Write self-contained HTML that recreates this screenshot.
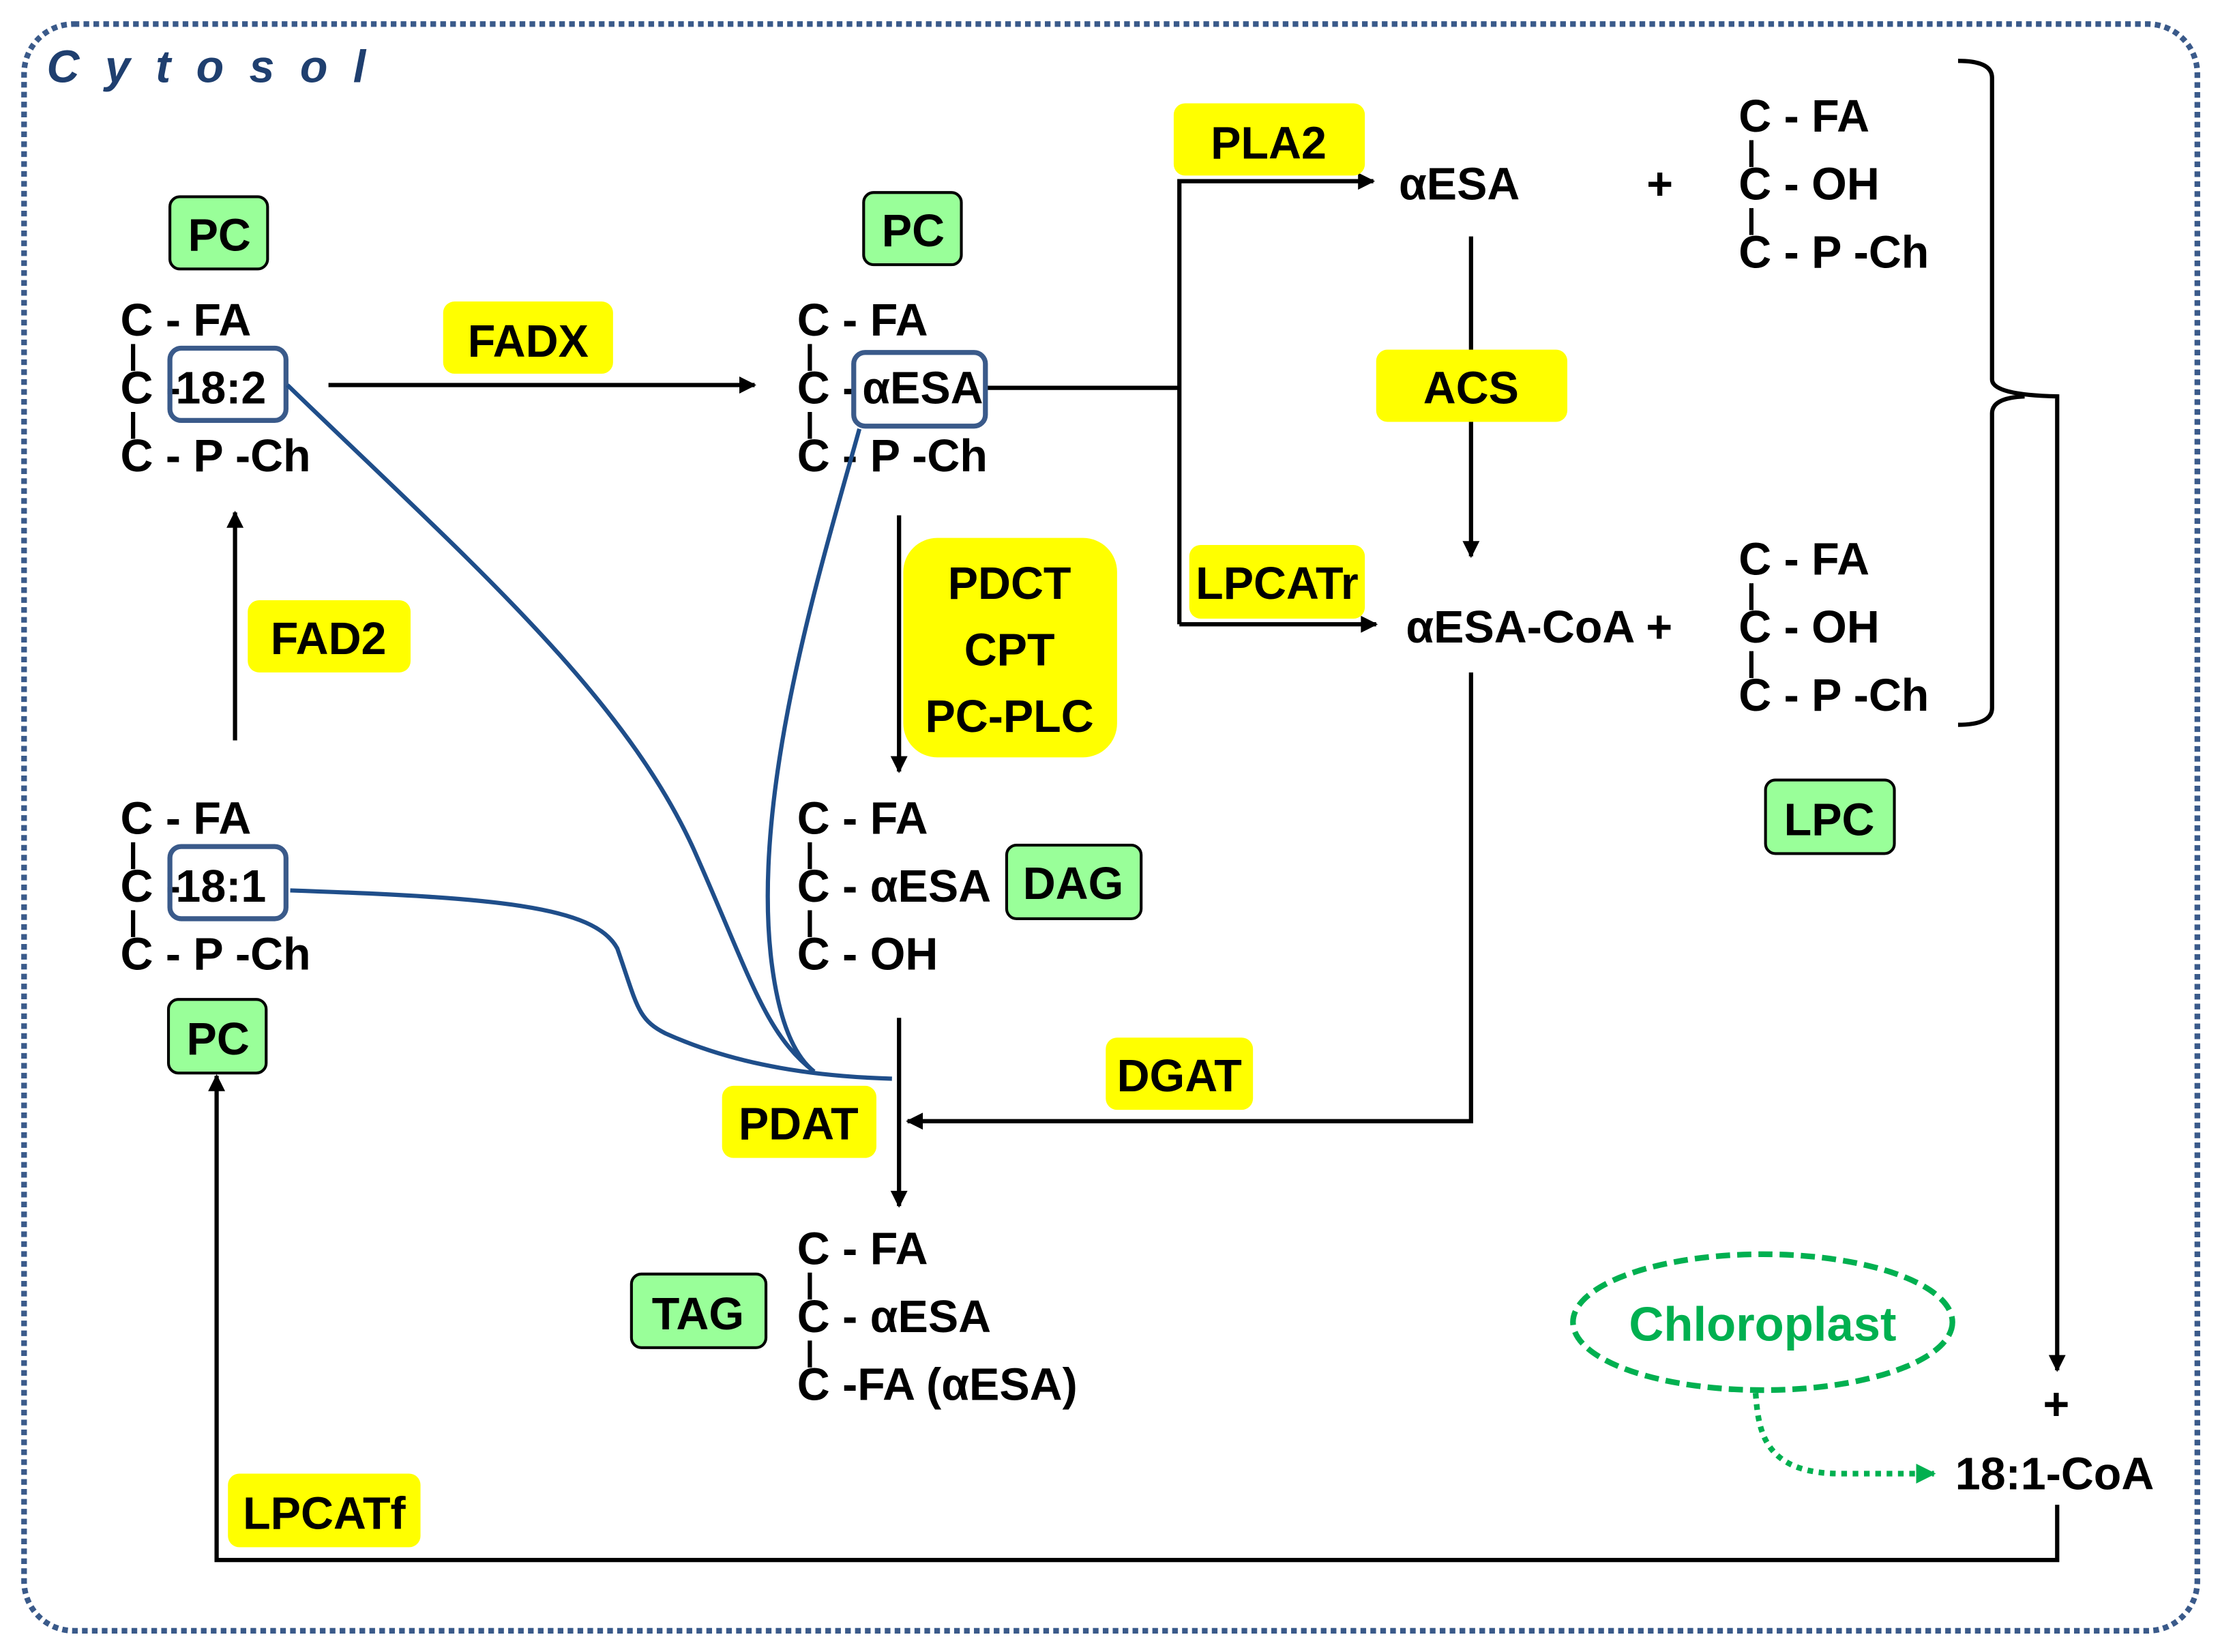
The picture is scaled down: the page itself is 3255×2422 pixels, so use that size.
<!DOCTYPE html>
<html><head><meta charset="utf-8"><style>html,body{margin:0;padding:0;background:#fff}svg{display:block}</style></head>
<body>
<svg width="3255" height="2422" viewBox="0 0 1568 1167" preserveAspectRatio="none" xmlns="http://www.w3.org/2000/svg" font-family="Liberation Sans Narrow, Liberation Sans, sans-serif" font-weight="bold">
<defs>
<marker id="ak" viewBox="0 0 10 10" refX="9" refY="5" markerWidth="14" markerHeight="12" orient="auto" markerUnits="userSpaceOnUse"><path d="M0,0L10,5L0,10z" fill="#000"/></marker>
<marker id="ag" viewBox="0 0 10 10" refX="9" refY="5" markerWidth="14" markerHeight="14" orient="auto" markerUnits="userSpaceOnUse"><path d="M0,0L10,5L0,10z" fill="#00b050"/></marker>
</defs>
<rect x="17" y="17" width="1535" height="1135" rx="35" fill="none" stroke="#3a5a8a" stroke-width="4" stroke-dasharray="4,3"/>
<text x="33" y="58" font-size="32" font-style="italic" fill="#1f3f6f" letter-spacing="18" font-family="Liberation Sans, sans-serif">Cytosol</text>

<g fill="none" stroke="#000" stroke-width="3">
<path d="M232,272H533" marker-end="url(#ak)"/>
<path d="M696,274H833"/>
<path d="M833,441V128H970" marker-end="url(#ak)"/>
<path d="M833,441H972" marker-end="url(#ak)"/>
<path d="M1039,167V393" marker-end="url(#ak)"/>
<path d="M166,523V362" marker-end="url(#ak)"/>
<path d="M635,364V545" marker-end="url(#ak)"/>
<path d="M635,719V852" marker-end="url(#ak)"/>
<path d="M1039,475V792H641" marker-end="url(#ak)"/>
<path d="M1383,43Q1407,43 1407,55V268Q1407,279 1453,280V968" marker-end="url(#ak)"/>
<path d="M1383,512Q1407,512 1407,500V292Q1407,281 1430,280"/>
<path d="M1453,1063V1102H153V760" marker-end="url(#ak)"/>
</g>

<g fill="#ffff00">
<rect x="829" y="73" width="135" height="51" rx="8"/>
<rect x="313" y="213" width="120" height="51" rx="8"/>
<rect x="175" y="424" width="115" height="51" rx="8"/>
<rect x="972" y="247" width="135" height="51" rx="8"/>
<rect x="840" y="385" width="124" height="52" rx="8"/>
<rect x="638" y="380" width="151" height="155" rx="24"/>
<rect x="781" y="733" width="104" height="51" rx="8"/>
<rect x="510" y="767" width="109" height="51" rx="8"/>
<rect x="161" y="1041" width="136" height="52" rx="8"/>
</g>
<g fill="#99ff99" stroke="#000" stroke-width="2">
<rect x="120" y="139" width="69" height="51" rx="7"/>
<rect x="610" y="136" width="69" height="51" rx="7"/>
<rect x="119" y="706" width="69" height="52" rx="7"/>
<rect x="711" y="597" width="95" height="52" rx="7"/>
<rect x="446" y="900" width="95" height="52" rx="7"/>
<rect x="1247" y="551" width="91" height="52" rx="7"/>
</g>

<g font-size="32" fill="#000" text-anchor="middle">
<text x="896" y="112">PLA2</text>
<text x="373" y="252">FADX</text>
<text x="232" y="462">FAD2</text>
<text x="1039" y="285">ACS</text>
<text x="902" y="423">LPCATr</text>
<text x="713" y="423">PDCT</text>
<text x="713" y="470">CPT</text>
<text x="713" y="517">PC-PLC</text>
<text x="833" y="771">DGAT</text>
<text x="564" y="805">PDAT</text>
<text x="229" y="1080">LPCATf</text>
<text x="155" y="177">PC</text>
<text x="645" y="174">PC</text>
<text x="154" y="745">PC</text>
<text x="758" y="635">DAG</text>
<text x="493" y="939">TAG</text>
<text x="1292" y="590">LPC</text>
</g>

<g font-size="32" fill="#000">
<text x="85" y="237">C - FA</text><text x="85" y="285">C -</text><text x="124" y="285">18:2</text><text x="85" y="333">C - P -Ch</text>
<text x="563" y="237">C - FA</text><text x="563" y="285">C -</text><text x="609" y="285">αESA</text><text x="563" y="333">C - P -Ch</text>
<text x="85" y="589">C - FA</text><text x="85" y="637">C -</text><text x="124" y="637">18:1</text><text x="85" y="685">C - P -Ch</text>
<text x="563" y="589">C - FA</text><text x="563" y="637">C - αESA</text><text x="563" y="685">C - OH</text>
<text x="563" y="893">C - FA</text><text x="563" y="941">C - αESA</text><text x="563" y="989">C -FA (αESA)</text>
<text x="1228" y="93">C - FA</text><text x="1228" y="141">C - OH</text><text x="1228" y="189">C - P -Ch</text>
<text x="1228" y="406">C - FA</text><text x="1228" y="454">C - OH</text><text x="1228" y="502">C - P -Ch</text>
<text x="988" y="141">αESA</text>
<text x="1163" y="141">+</text>
<text x="993" y="454">αESA-CoA +</text>
<text x="1443" y="1003">+</text>
<text x="1381" y="1052">18:1-CoA</text>
</g>
<g stroke="#000" stroke-width="3">
<path d="M94,243V262M94,291V310M572,243V262M572,291V310M94,595V614M94,643V662M572,595V614M572,643V662M572,899V918M572,947V966M1237,99V118M1237,147V166M1237,412V431M1237,460V479"/>
</g>
<g fill="none" stroke="#3a5a8a" stroke-width="3.5">
<rect x="120" y="246" width="82" height="51" rx="8"/>
<rect x="603" y="249" width="93" height="52" rx="8"/>
<rect x="120" y="598" width="82" height="51" rx="8"/>
</g>
<g fill="none" stroke="#1f4e8a" stroke-width="3">
<path d="M203,272 C330,395 440,490 490,600 C530,690 540,730 575,757"/>
<path d="M607,303 C580,400 530,560 545,680 C550,720 560,745 575,757"/>
<path d="M205,629 C350,634 420,640 436,670 C450,710 450,720 470,730 C510,748 560,760 630,762"/>
</g>
<ellipse cx="1245" cy="934" rx="134" ry="48" fill="none" stroke="#00b050" stroke-width="4" stroke-dasharray="10,5"/>
<text x="1245" y="947" font-size="34" fill="#00b050" text-anchor="middle">Chloroplast</text>
<path d="M1240,984 C1242,1010 1245,1041 1300,1041 H1366" fill="none" stroke="#00b050" stroke-width="4" stroke-dasharray="4,4" marker-end="url(#ag)"/>
</svg>
</body></html>
